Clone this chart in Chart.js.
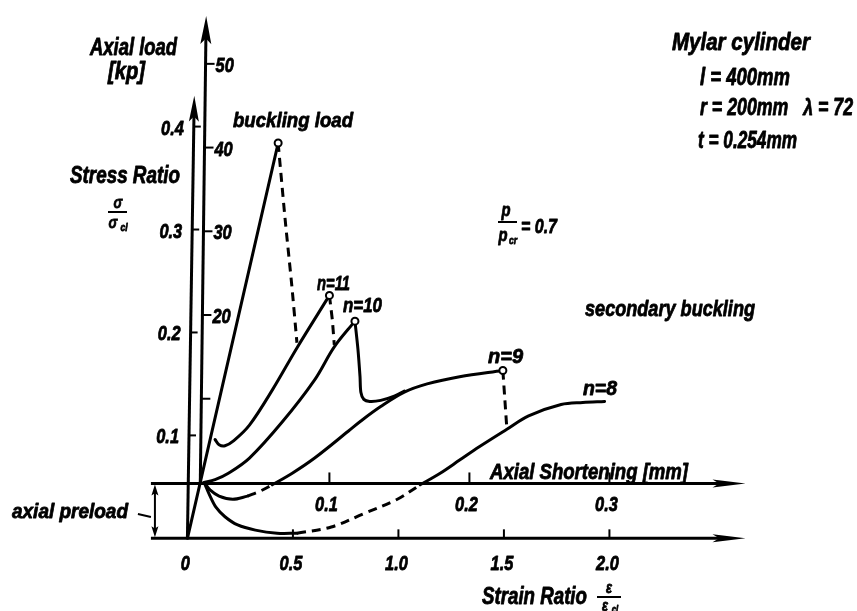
<!DOCTYPE html>
<html>
<head>
<meta charset="utf-8">
<script src="https://cdn.jsdelivr.net/npm/chart.js@4.4.1/dist/chart.umd.min.js"></script>
<style>
  html, body { margin: 0; padding: 0; background: #fff; }
</style>
</head>
<body>
<canvas id="chart" width="857" height="611"></canvas>
<script>
// [strain ratio, stress ratio] pairs
const bucklingPath = [[0, 0], [0.430, 0.384]];
const postBucklingDrop = [[0.430, 0.384], [0.463, 0.310], [0.495, 0.245], [0.519, 0.190]];
const n11Path = [[0.131, 0.096], [0.150, 0.091], [0.178, 0.090], [0.220, 0.095], [0.294, 0.110],
  [0.402, 0.144], [0.519, 0.185], [0.673, 0.236]];
const n11Drop = [[0.673, 0.236], [0.687, 0.212], [0.696, 0.188]];
const n10Path = [[0.075, 0.054], [0.131, 0.057], [0.192, 0.063], [0.294, 0.078], [0.449, 0.113],
  [0.603, 0.154], [0.696, 0.186], [0.794, 0.211]];
const n10Drop = [[0.794, 0.211], [0.808, 0.184], [0.818, 0.157], [0.822, 0.142], [0.836, 0.135],
  [0.864, 0.133], [0.916, 0.134], [0.977, 0.138], [1.028, 0.143]];
const n9Dip = [[0.084, 0.053], [0.107, 0.047], [0.150, 0.041], [0.215, 0.038], [0.285, 0.041]];
const n9DipDashed = [[0.285, 0.041], [0.346, 0.046], [0.402, 0.052]];
const n9Path = [[0.402, 0.052], [0.495, 0.063], [0.603, 0.078], [0.762, 0.104], [0.822, 0.114],
  [0.916, 0.128], [1.028, 0.142], [1.136, 0.150], [1.290, 0.157], [1.495, 0.163]];
const n9Drop = [[1.495, 0.163], [1.514, 0.106]];
const n8Dip = [[0.084, 0.052], [0.103, 0.043], [0.136, 0.030], [0.178, 0.021], [0.238, 0.013],
  [0.322, 0.008], [0.425, 0.005], [0.519, 0.005]];
const n8Dashed = [[0.519, 0.005], [0.682, 0.011], [0.836, 0.024], [0.995, 0.038], [1.103, 0.052]];
const n8Path = [[1.103, 0.052], [1.196, 0.063], [1.290, 0.076], [1.383, 0.089], [1.514, 0.106],
  [1.617, 0.119], [1.771, 0.130], [1.874, 0.132], [1.977, 0.133]];
const peakMarkers = [[0.430, 0.384], [0.673, 0.236], [0.794, 0.211], [1.495, 0.163]];

// tick values and labels
const strainTicks = [0, 0.5, 1.0, 1.5, 2.0];
const strainLabels = ['0', '0.5', '1.0', '1.5', '2.0'];
const shorteningTicks = [0.1, 0.2, 0.3];
const shorteningLabels = ['0.1', '0.2', '0.3'];
const stressTicks = [0.1, 0.2, 0.3, 0.4];
const stressLabels = ['0.1', '0.2', '0.3', '0.4'];
const loadTicks = [10, 20, 30, 40, 50];
const loadLabels = ['', '20', '30', '40', '50'];

// layout of the drawn axes (in scale units)
const AXIS_START = -0.173, AXIS_END = 2.645;
const STRESS_TOP = 0.43, LOAD_TOP = 55.7, LOAD_AXIS_AT = 0.061;
const STRESS_TILT = 0.0155, LOAD_TILT = 0.0126;
const PRELOAD_AT = -0.154;

const FONT = '"Liberation Sans", Arial, sans-serif';

function pts(arr) { return arr.map(([x, y]) => ({ x, y })); }

function line(arr, extra) {
  return Object.assign({
    data: pts(arr), showLine: true, borderColor: '#000', borderWidth: 3,
    pointRadius: 0, tension: 0.35, fill: false, order: 1,
    borderCapStyle: 'round', borderJoinStyle: 'round'
  }, extra || {});
}
const dashed = { borderDash: [9, 6], borderCapStyle: 'butt' };

function arrow(ctx, tx, ty, dx, dy, len, half) {
  const n = Math.hypot(dx, dy), ux = dx / n, uy = dy / n;
  const bx = tx - ux * len, by = ty - uy * len;
  ctx.beginPath();
  ctx.moveTo(tx, ty);
  ctx.lineTo(bx - uy * half, by + ux * half);
  ctx.lineTo(bx + ux * len * 0.2, by + uy * len * 0.2);
  ctx.lineTo(bx + uy * half, by - ux * half);
  ctx.closePath();
  ctx.fill();
}

// stencil-like lettering: bold italic, squeezed to the width seen in the drawing
function text(ctx, str, x, y, size, width, align) {
  ctx.save();
  ctx.font = 'italic bold ' + size + 'px ' + FONT;
  const w = ctx.measureText(str).width;
  const sx = width ? width / w : 0.78;
  ctx.translate(x, y);
  ctx.scale(sx, 1);
  ctx.textAlign = align || 'left';
  ctx.textBaseline = 'alphabetic';
  ctx.lineWidth = 0.8;
  ctx.lineJoin = 'round';
  ctx.fillText(str, 0, 0);
  ctx.strokeText(str, 0, 0);
  ctx.restore();
}

function seg(ctx, x1, y1, x2, y2, w) {
  ctx.lineWidth = w;
  ctx.beginPath();
  ctx.moveTo(x1, y1);
  ctx.lineTo(x2, y2);
  ctx.stroke();
}

const axesPlugin = {
  id: 'drawnAxes',
  beforeDatasetsDraw(chart) {
    const ctx = chart.ctx;
    const X = v => chart.scales.x.getPixelForValue(v);
    const Y = v => chart.scales.y.getPixelForValue(v);
    const X2 = v => chart.scales.x2.getPixelForValue(v);
    const Y2 = v => chart.scales.y2.getPixelForValue(v);
    ctx.save();
    ctx.strokeStyle = '#000';
    ctx.fillStyle = '#000';
    ctx.lineCap = 'butt';

    // strain ratio axis (bottom)
    const yS = Y(0);
    seg(ctx, X(AXIS_START), yS, X(AXIS_END) - 20, yS, 3);
    arrow(ctx, X(AXIS_END), yS, 1, 0, 33, 4);
    strainTicks.forEach((v, i) => {
      if (v !== 0) seg(ctx, X(v), yS, X(v), yS - 9, 2);
      text(ctx, strainLabels[i], X(v) - 2, yS + 32, 21, null, 'center');
    });

    // axial shortening axis
    const yA = Y2(0) + 1;
    seg(ctx, X(AXIS_START), yA, X(AXIS_END) - 20, yA, 3);
    arrow(ctx, X(AXIS_END), yA, 1, 0, 33, 4);
    shorteningTicks.forEach((v, i) => {
      seg(ctx, X2(v), yA, X2(v), yA - 11, 2);
      text(ctx, shorteningLabels[i], X2(v) - 3, yA + 28, 21, null, 'center');
    });

    // stress ratio axis
    const sx = y => X(0) + (yS - y) * STRESS_TILT;
    const yTop = Y(STRESS_TOP);
    seg(ctx, sx(yS), yS, sx(yTop + 15), yTop + 15, 3);
    arrow(ctx, sx(yTop), yTop, STRESS_TILT, -1, 26, 5);
    stressTicks.forEach((v, i) => {
      const y = Y(v);
      seg(ctx, sx(y), y, sx(y) + 7, y, 2);
      text(ctx, stressLabels[i], sx(y) - 10, y + 8, 21, null, 'right');
    });

    // axial load axis
    const y0 = Y2(0);
    const lx = y => X(LOAD_AXIS_AT) + (y0 - y) * LOAD_TILT;
    const lTop = Y2(LOAD_TOP);
    seg(ctx, lx(y0), y0, lx(lTop + 15), lTop + 15, 3);
    arrow(ctx, lx(lTop), lTop, LOAD_TILT, -1, 28, 5.5);
    loadTicks.forEach((v, i) => {
      const y = Y2(v);
      seg(ctx, lx(y), y, lx(y) + 9, y, 2);
      if (loadLabels[i]) text(ctx, loadLabels[i], lx(y) + 10, y + 8, 21, null, 'left');
    });

    // axial preload bracket
    const px = X(PRELOAD_AT);
    seg(ctx, px, yA + 6, px, yS - 6, 2);
    arrow(ctx, px, yA + 1, 0, -1, 11, 3.5);
    arrow(ctx, px, yS - 1, 0, 1, 11, 3.5);
    seg(ctx, px - 17, 514, px - 4, 517, 2);
    ctx.restore();
  },
  afterDatasetsDraw(chart) {
    const ctx = chart.ctx;
    ctx.save();
    ctx.fillStyle = '#000';
    ctx.strokeStyle = '#000';
    text(ctx, 'Axial load', 90, 55, 23, 87);
    text(ctx, '[kp]', 108, 79, 23, 37);
    text(ctx, 'buckling load', 233, 127, 21, 120);
    text(ctx, 'Stress Ratio', 70, 183, 24, 110);
    text(ctx, 'σ', 118, 208, 17, null, 'center');
    seg(ctx, 108, 212, 127, 212, 2);
    text(ctx, 'σ', 113, 228, 17, null, 'center');
    text(ctx, 'cl', 124, 231, 11, null, 'center');

    text(ctx, 'Mylar cylinder', 672, 50, 23, 138);
    text(ctx, 'l = 400mm', 700, 85, 23, 90);
    text(ctx, 'r = 200mm   λ = 72', 700, 115, 23, 153);
    text(ctx, 't = 0.254mm', 698, 148, 23, 99);

    text(ctx, 'p', 506, 216, 19, null, 'center');
    seg(ctx, 498, 222, 517, 222, 2);
    text(ctx, 'p', 503, 241, 19, null, 'center');
    text(ctx, 'cr', 513, 244, 11, null, 'center');
    text(ctx, '= 0.7', 521, 233, 21, 36);

    text(ctx, 'n=11', 317, 290, 21, 33);
    text(ctx, 'n=10', 343, 312, 21, 39);
    text(ctx, 'n=9', 488, 363, 21, 35);
    text(ctx, 'n=8', 583, 395, 20, 34);
    text(ctx, 'secondary buckling', 585, 316, 22, 170);
    text(ctx, 'Axial Shortening [mm]', 490, 479, 22, 198);
    text(ctx, 'axial preload', 12, 518, 20, 116);
    text(ctx, 'Strain Ratio', 482, 604, 23, 105);
    text(ctx, 'ε', 609, 593, 16, null, 'center');
    seg(ctx, 597, 597, 621, 597, 2);
    text(ctx, 'ε', 605, 611, 16, null, 'center');
    text(ctx, 'cl', 615, 613, 10, null, 'center');
    ctx.restore();
  }
};

const datasets = [
  { data: pts(peakMarkers), showLine: false, pointRadius: 3.5, pointBorderWidth: 2,
    pointBackgroundColor: '#fff', pointBorderColor: '#000', order: 0 },
  line(bucklingPath, { tension: 0 }),
  line(postBucklingDrop, Object.assign({ tension: 0.2 }, dashed)),
  line(n11Path),
  line(n11Drop, Object.assign({ tension: 0 }, dashed)),
  line(n10Path),
  line(n10Drop, { tension: 0.3 }),
  line(n9Dip),
  line(n9DipDashed, dashed),
  line(n9Path),
  line(n9Drop, Object.assign({ tension: 0 }, dashed)),
  line(n8Dip),
  line(n8Dashed, dashed),
  line(n8Path)
];

new Chart(document.getElementById('chart'), {
  type: 'scatter',
  data: { datasets: datasets },
  options: {
    responsive: false,
    animation: false,
    layout: { padding: 0 },
    plugins: { legend: { display: false }, tooltip: { enabled: false } },
    scales: {
      x: { type: 'linear', display: false, min: -0.8598, max: 3.1449 },
      y: { type: 'linear', display: false, min: -0.06476, max: 0.51714 },
      x2: { type: 'linear', axis: 'x', display: false, min: -0.13099, max: 0.47254 },
      y2: { type: 'linear', axis: 'y', display: false, min: -14.637, max: 56.909 }
    }
  },
  plugins: [axesPlugin]
});
</script>
</body>
</html>
